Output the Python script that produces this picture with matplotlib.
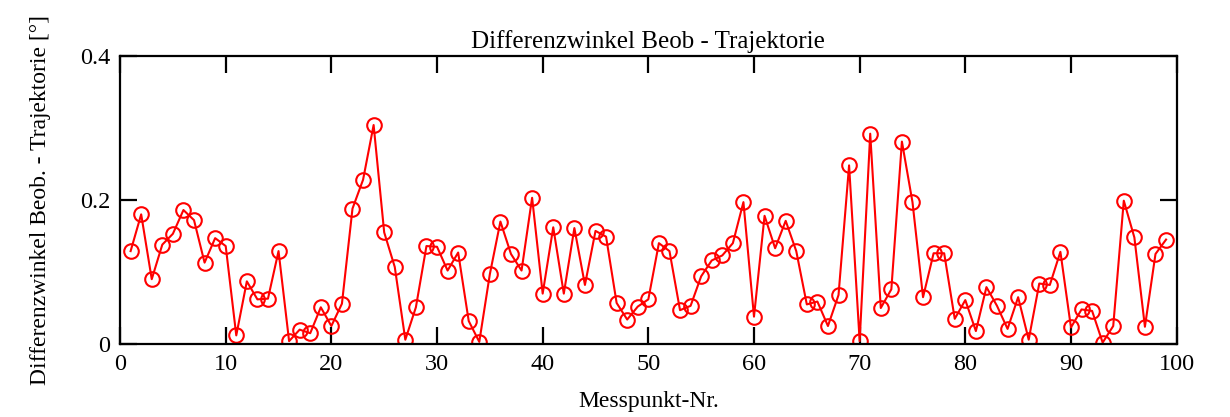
import numpy as np
import matplotlib
matplotlib.use('Agg')
import matplotlib.pyplot as plt

plt.rcParams['font.family'] = ['Liberation Serif', 'DejaVu Serif']

# Messpunkt-Nr. 1..99 and the angle difference in degrees
messpunkt = list(range(1, 100))
diff_winkel = [
    0.129, 0.180, 0.090, 0.138, 0.153, 0.186, 0.172, 0.113, 0.147, 0.136,
    0.012, 0.087, 0.062, 0.063, 0.129, 0.004, 0.020, 0.015, 0.051, 0.025,
    0.056, 0.188, 0.228, 0.304, 0.155, 0.107, 0.006, 0.051, 0.136, 0.135,
    0.102, 0.127, 0.032, 0.003, 0.097, 0.170, 0.125, 0.102, 0.203, 0.070,
    0.162, 0.070, 0.161, 0.082, 0.157, 0.149, 0.057, 0.034, 0.052, 0.062,
    0.140, 0.129, 0.047, 0.053, 0.094, 0.116, 0.123, 0.140, 0.197, 0.038,
    0.178, 0.133, 0.171, 0.129, 0.055, 0.059, 0.025, 0.068, 0.248, 0.004,
    0.292, 0.050, 0.076, 0.281, 0.197, 0.065, 0.126, 0.126, 0.035, 0.061,
    0.018, 0.079, 0.053, 0.021, 0.065, 0.006, 0.084, 0.082, 0.128, 0.023,
    0.048, 0.046, 0.002, 0.025, 0.199, 0.148, 0.024, 0.125, 0.145,
]
x_ticks = list(range(0, 101, 10))
y_ticks = [0, 0.2, 0.4]
y_tick_labels = ['0', '0.2', '0.4']

fig = plt.figure(figsize=(12.3, 4.17), dpi=100)
ax = fig.add_axes([0.0976, 0.175, 0.859, 0.691])

ax.plot(messpunkt, diff_winkel, color='red', lw=1.5, marker='o',
        markersize=10.5, markerfacecolor='none', markeredgecolor='red',
        markeredgewidth=1.5)

ax.set_xlim(0, 100)
ax.set_ylim(0, 0.4)
ax.set_xticks(x_ticks)
ax.set_yticks(y_ticks)
ax.set_yticklabels(y_tick_labels)

for s in ax.spines.values():
    s.set_linewidth(1.6)
ax.tick_params(direction='in', length=12, width=1.6, top=True, right=True,
               labelsize=17.5, pad=7)

ax.set_title('Differenzwinkel Beob - Trajektorie', fontsize=18, pad=6)
ax.set_xlabel('Messpunkt-Nr.', fontsize=17, labelpad=12)
ax.set_ylabel('Differenzwinkel Beob. - Trajektorie [°]', fontsize=17,
              labelpad=21)

fig.savefig('out.png', dpi=100)
